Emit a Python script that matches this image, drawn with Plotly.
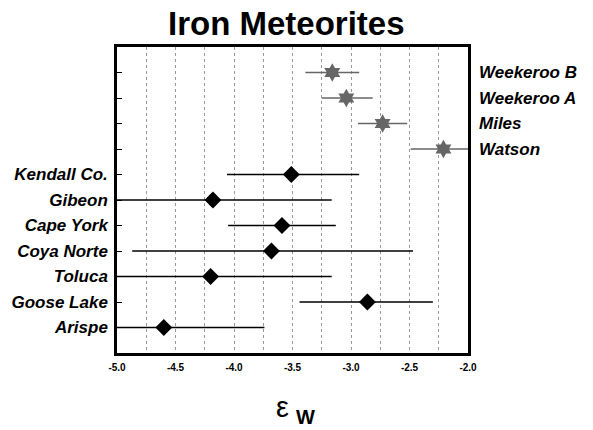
import plotly.graph_objects as go

# Rows from bottom (1) to top (11)
names = ["Arispe", "Goose Lake", "Toluca", "Coya Norte", "Cape York", "Gibeon",
         "Kendall Co.", "Watson", "Miles", "Weekeroo A", "Weekeroo B"]
eps_w = [-4.60, -2.86, -4.20, -3.68, -3.59, -4.18, -3.51, -2.21, -2.73, -3.04, -3.16]
low = [-5.10, -3.44, -5.10, -4.87, -4.05, -5.10, -4.06, -2.49, -2.94, -3.25, -3.39]
high = [-3.74, -2.30, -3.165, -2.47, -3.13, -3.165, -2.93, -1.95, -2.52, -2.815, -2.93]
group = ["lab"] * 7 + ["star"] * 4
x_ticks = [-5.0, -4.5, -4.0, -3.5, -3.0, -2.5, -2.0]

rows = list(range(1, len(names) + 1))

W, H = 593, 430
L, R, T, B = 117, 125, 47, 77
PW, PH = W - L - R, H - T - B


def px(x):
    return (x - L) / PW


def py(y):
    return (H - B - y) / PH


fig = go.Figure()


def add_group(kind, marker, color, size):
    idx = [i for i, g in enumerate(group) if g == kind]
    xs = [eps_w[i] for i in idx]
    ys = [rows[i] for i in idx]
    plus = [high[i] - eps_w[i] for i in idx]
    minus = [eps_w[i] - low[i] for i in idx]
    fig.add_trace(go.Scatter(
        x=xs, y=ys, mode="markers",
        marker=dict(symbol=marker, size=size, color=color, line=dict(width=0)),
        error_x=dict(type="data", array=plus, arrayminus=minus, symmetric=False,
                     color=color, thickness=1.6, width=0),
        showlegend=False, cliponaxis=True, hoverinfo="skip",
    ))


add_group("lab", "diamond", "#000000", 13)
add_group("star", "hexagram", "#666666", 14)

# invisible trace for right axis
fig.add_trace(go.Scatter(x=[None], y=[None], yaxis="y2", showlegend=False))

left_text = [n if g == "lab" else "" for n, g in zip(names, group)]
right_vals = [r for r, g in zip(rows, group) if g == "star"]
right_text = [n for n, g in zip(names, group) if g == "star"]

fig.update_layout(
    width=W, height=H,
    margin=dict(l=L, r=R, t=T, b=B, autoexpand=False),
    paper_bgcolor="white", plot_bgcolor="white",
    font=dict(family="Liberation Sans, Arial, sans-serif", color="black"),
    xaxis=dict(
        range=[-5.0, -2.0], tickvals=x_ticks,
        ticktext=["<b>%.1f</b>" % v for v in x_ticks],
        tickfont=dict(size=10), ticks="", automargin=False,
        showgrid=True, gridcolor="#999999", griddash="dot", gridwidth=1,
        minor=dict(dtick=0.25, tick0=-5.0, showgrid=True, gridcolor="#999999",
                   griddash="dot", gridwidth=1),
        showline=True, linecolor="black", linewidth=2.5, mirror=True,
        zeroline=False, fixedrange=True, ticklabelstandoff=3,
    ),
    yaxis=dict(
        range=[0, 12], tickvals=rows, automargin=False,
        ticktext=["<b><i>%s</i></b>" % t if t else "" for t in left_text],
        tickfont=dict(size=17), ticks="inside", ticklen=5, tickcolor="black",
        tickwidth=1,
        showgrid=False, zeroline=False,
        showline=True, linecolor="black", linewidth=2.5, mirror=True,
        ticklabelstandoff=3, fixedrange=True,
    ),
    yaxis2=dict(
        range=[0, 12], overlaying="y", side="right", tickvals=right_vals,
        automargin=False,
        ticktext=["<b><i>%s</i></b>" % t for t in right_text],
        tickfont=dict(size=17), ticks="", showgrid=False, zeroline=False,
        showline=False, ticklabelstandoff=10, fixedrange=True,
    ),
)

fig.add_annotation(text="<b>Iron Meteorites</b>", x=px(286), y=py(23),
                   xref="paper", yref="paper", showarrow=False,
                   font=dict(size=33), xanchor="center", yanchor="middle")
fig.add_annotation(text="ε", x=px(282), y=py(407), xref="paper", yref="paper",
                   showarrow=False, font=dict(size=29), xanchor="center",
                   yanchor="middle")
fig.add_annotation(text="<b>W</b>", x=px(305), y=py(417), xref="paper", yref="paper",
                   showarrow=False, font=dict(size=20), xanchor="center",
                   yanchor="middle")

fig.write_html("out.html",
               config={"displayModeBar": False},
               post_script="document.body.style.margin='0';"
                           "document.body.style.overflow='hidden';")
